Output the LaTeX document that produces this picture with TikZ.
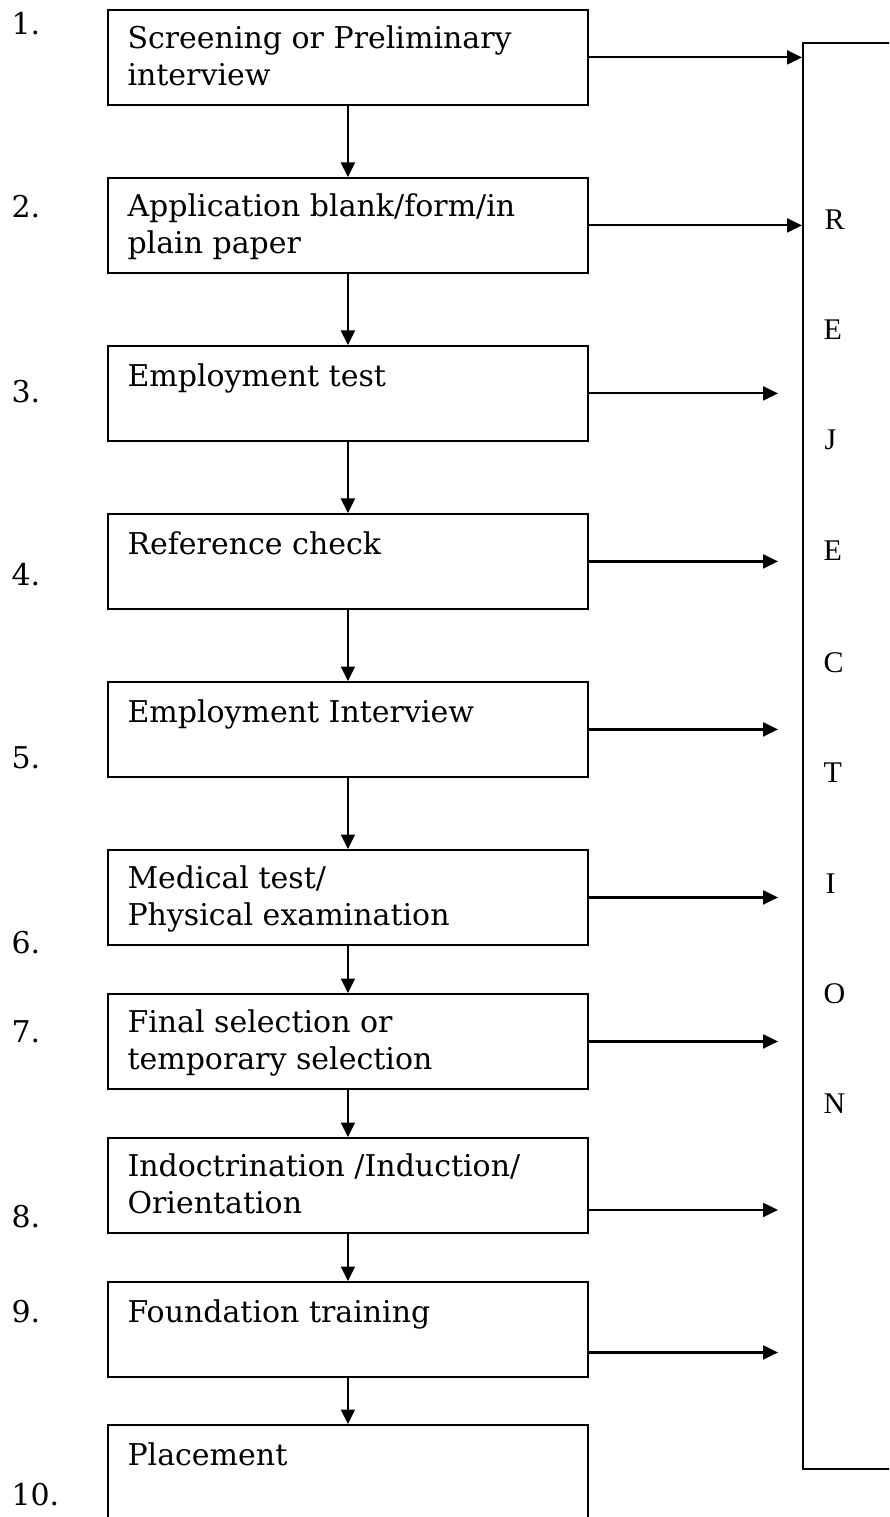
\documentclass[tikz,border=0pt]{standalone}
\usepackage{fontspec}
\setmainfont{DejaVu Serif}
\newfontfamily\termesfont{Liberation Serif}
\usetikzlibrary{arrows.meta}
\begin{document}
\begin{tikzpicture}[x=0.4pt,y=-0.4pt,
  stepbox/.style={draw,line width=0.75pt,minimum width=192pt,minimum height=38pt,
    inner sep=0pt,anchor=north west},
  steptext/.style={anchor=north west,inner sep=0pt,align=left,
    font=\fontsize{12}{14.8}\selectfont},
  num/.style={anchor=base west,inner sep=0pt,font=\fontsize{12}{14}\selectfont},
  letter/.style={anchor=base west,inner sep=0pt,font=\termesfont\fontsize{12}{14}\selectfont},
  flow/.style={line width=0.6pt,-{Triangle[length=5.8pt,width=5.6pt]}},
  reject/.style={line width=0.85pt,-{Triangle[length=6pt,width=5.6pt]}}]
\useasboundingbox (0,0) rectangle (889,1517);
\clip (0,0) rectangle (889,1517);

% step boxes
\node[stepbox] (b1)  at (107,9)    {};
\node[stepbox] (b2)  at (107,177)  {};
\node[stepbox] (b3)  at (107,345)  {};
\node[stepbox] (b4)  at (107,513)  {};
\node[stepbox] (b5)  at (107,681)  {};
\node[stepbox] (b6)  at (107,849)  {};
\node[stepbox] (b7)  at (107,993)  {};
\node[stepbox] (b8)  at (107,1137) {};
\node[stepbox] (b9)  at (107,1281) {};
\node[stepbox] (b10) at (107,1424) {};

% box texts
\node[steptext] (t1)  at (127,23)   {\rule{0pt}{10pt}Screening or Preliminary\\interview};
\node[steptext] (t2)  at (127,191)  {\rule{0pt}{10pt}Application blank/form/in\\plain paper};
\node[steptext] (t3)  at (127,361)  {\rule{0pt}{10pt}Employment test};
\node[steptext] (t4)  at (127,529)  {\rule{0pt}{10pt}Reference check};
\node[steptext] (t5)  at (127,697)  {\rule{0pt}{10pt}Employment Interview};
\node[steptext] (t6)  at (127,863)  {\rule{0pt}{10pt}Medical test/\\Physical examination};
\node[steptext] (t7)  at (127,1007) {\rule{0pt}{10pt}Final selection or\\temporary selection};
\node[steptext] (t8)  at (127,1151) {\rule{0pt}{10pt}Indoctrination /Induction/\\Orientation};
\node[steptext] (t9)  at (127,1297) {\rule{0pt}{10pt}Foundation training};
\node[steptext] (t10) at (127,1440) {\rule{0pt}{10pt}Placement};

% step numbers
\node[num] (n1)  at (11,35)   {1.};
\node[num] (n2)  at (11,218)  {2.};
\node[num] (n3)  at (11,403)  {3.};
\node[num] (n4)  at (11,585)  {4.};
\node[num] (n5)  at (11,768)  {5.};
\node[num] (n6)  at (11,953)  {6.};
\node[num] (n7)  at (11,1042) {7.};
\node[num] (n8)  at (11,1227) {8.};
\node[num] (n9)  at (11,1322) {9.};
\node[num] (n10) at (11,1505) {10.};

% rejection column
\node[draw,line width=0.75pt,anchor=north west,inner sep=0pt,
  minimum width=100pt,minimum height=570.4pt] (rej) at (802,42) {};
\node[letter] (l1) at (824,230)  {R};
\node[letter] (l2) at (823,340)  {E};
\node[letter] (l3) at (824,450)  {J};
\node[letter] (l4) at (823,560)  {E};
\node[letter] (l5) at (823,672)  {C};
\node[letter] (l6) at (823,782)  {T};
\node[letter] (l7) at (825,893)  {I};
\node[letter] (l8) at (823,1003) {O};
\node[letter] (l9) at (823,1113) {N};

% downward flow
\foreach \a/\b in {b1/b2,b2/b3,b3/b4,b4/b5,b5/b6,b6/b7,b7/b8,b8/b9,b9/b10}
  \draw[flow] (\a.south) -- (\b.north);

% rejection arrows
\coordinate (stop) at (778,0);
\draw[reject] (b1.east) -- (b1.east -| rej.west);
\draw[reject] (b2.east) -- (b2.east -| rej.west);
\foreach \a in {b3,b4,b5,b6,b7}
  \draw[reject] (\a.east) -- (\a.east -| stop);
\coordinate (o8) at ([yshift=-9.8pt]b8.east);
\coordinate (o9) at ([yshift=-9.2pt]b9.east);
\draw[reject] (o8) -- (o8 -| stop);
\draw[reject] (o9) -- (o9 -| stop);
\end{tikzpicture}
\end{document}
